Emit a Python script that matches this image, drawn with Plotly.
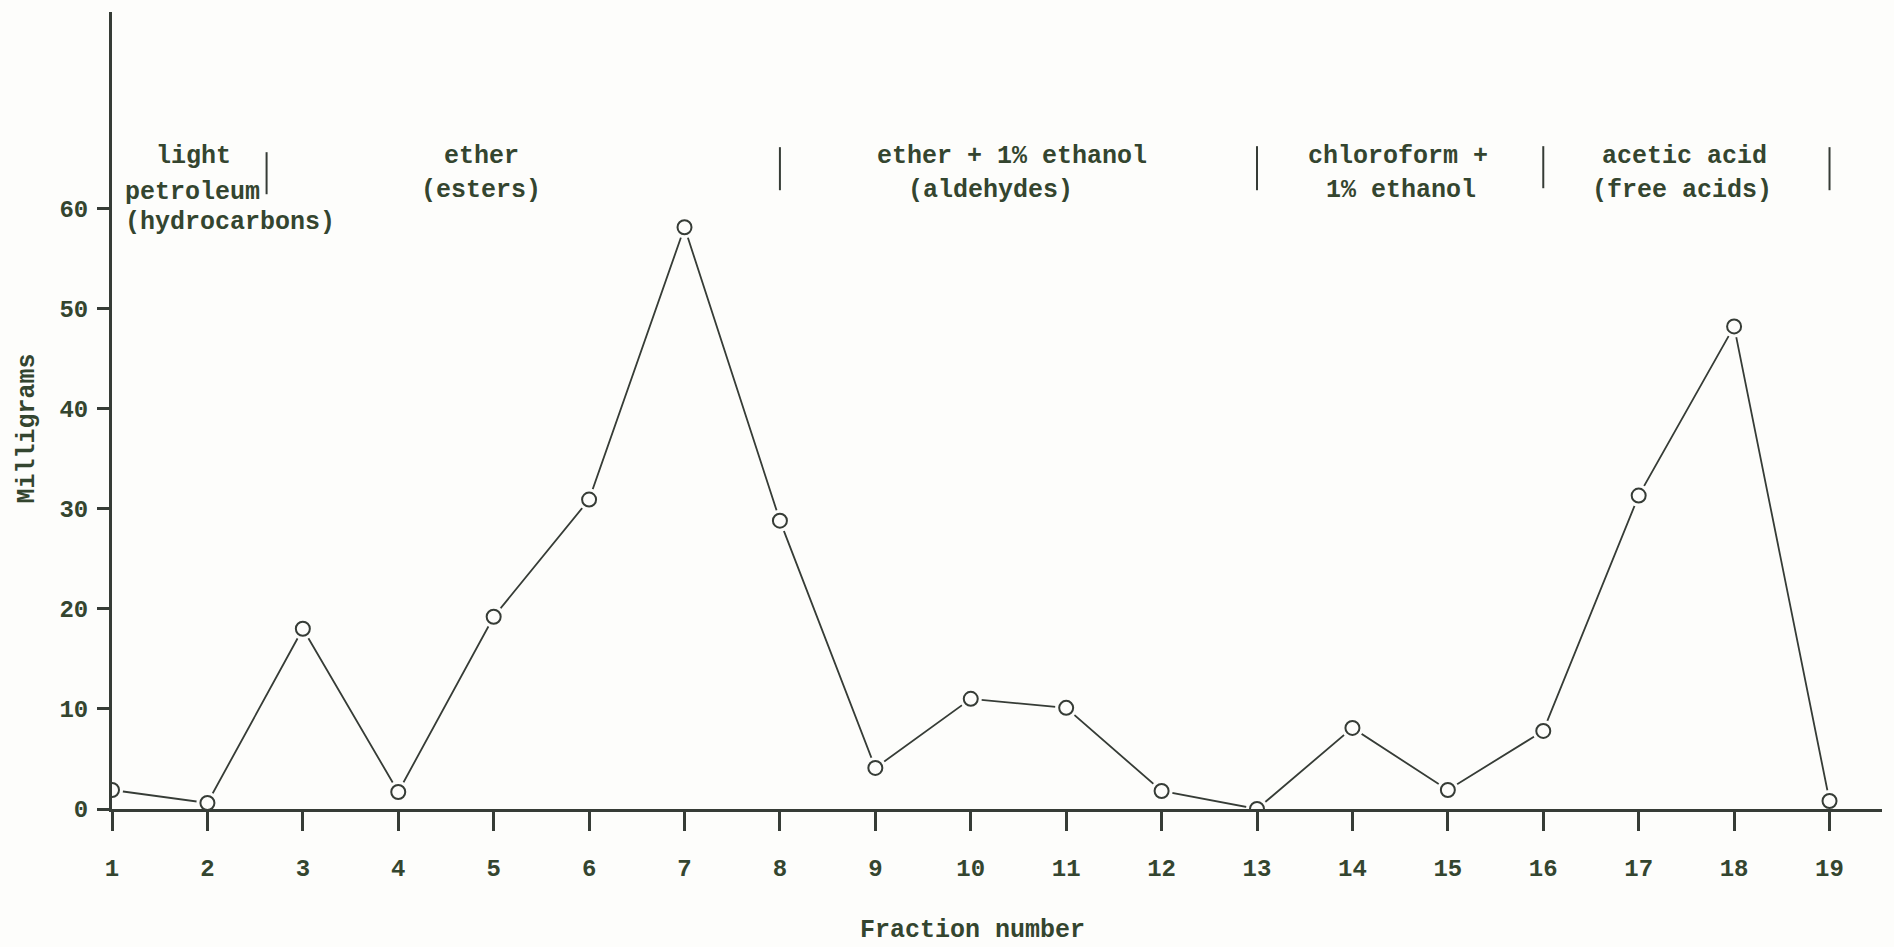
import plotly.graph_objects as go

# Data
fractions = list(range(1, 20))
milligrams = [1.9, 0.6, 18.0, 1.7, 19.2, 30.9, 58.1, 28.8, 4.1, 11.0, 10.1, 1.8, 0.0, 8.1, 1.9, 7.8, 31.3, 48.2, 0.8]

# Solvent labels: (x centre, y, text)
solvent_labels_x = [1.85, 1.12, 1.12, 4.87, 4.87, 10.43, 10.21, 14.48, 14.51, 17.48, 17.45]
solvent_labels_y = [65.2, 61.6, 58.6, 65.2, 61.8, 65.2, 61.8, 65.2, 61.8, 65.2, 61.8]
solvent_labels_text = ["light", "petroleum", "(hydrocarbons)", "ether", "(esters)",
                       "ether + 1% ethanol", "(aldehydes)", "chloroform +", "1% ethanol",
                       "acetic acid", "(free acids)"]
solvent_labels_anchor = ["center", "left", "left", "center", "center", "center", "center",
                         "center", "center", "center", "center"]

# Solvent boundaries (fraction position, y from, y to)
boundary_x = [2.62, 8, 13, 16, 19]
boundary_y0 = [61.4, 61.8, 61.8, 62.0, 61.8]
boundary_y1 = [65.6, 66.1, 66.2, 66.2, 66.1]

ink = "#363c36"
text_col = "#34452f"
bg = "#fdfdfb"
font_family = "Liberation Mono, Courier New, monospace"

fig = go.Figure()
fig.add_trace(go.Scatter(x=fractions, y=milligrams, mode="lines",
                         line=dict(color=ink, width=1.8), hoverinfo="skip"))
fig.add_trace(go.Scatter(x=fractions, y=milligrams, mode="markers",
                         marker=dict(size=22, color=bg, line=dict(width=0)), hoverinfo="skip"))
fig.add_trace(go.Scatter(x=fractions, y=milligrams, mode="markers",
                         marker=dict(symbol="circle-open", size=14, color=ink, line=dict(width=2)),
                         hoverinfo="skip"))

for xb, y0, y1 in zip(boundary_x, boundary_y0, boundary_y1):
    fig.add_shape(type="line", x0=xb, x1=xb, y0=y0, y1=y1, xref="x", yref="y",
                  line=dict(color=ink, width=2))

for xt, yt, tt, an in zip(solvent_labels_x, solvent_labels_y, solvent_labels_text, solvent_labels_anchor):
    fig.add_annotation(x=xt, y=yt, text=tt, xref="x", yref="y", showarrow=False,
                       xanchor=an, yanchor="middle",
                       font=dict(family=font_family, size=25, color=text_col, weight="bold"))

fig.add_annotation(text="Fraction number", xref="paper", yref="paper", x=0.486, y=-0.152,
                   showarrow=False, xanchor="center", yanchor="middle",
                   font=dict(family=font_family, size=25, color=text_col, weight="bold"))
fig.add_annotation(text="Milligrams", xref="paper", yref="y", x=-0.048, y=38.0, textangle=-90,
                   showarrow=False, xanchor="center", yanchor="middle",
                   font=dict(family=font_family, size=25, color=text_col, weight="bold"))

fig.update_layout(
    width=1894, height=947,
    margin=dict(l=112, r=12, t=12, b=138),
    paper_bgcolor=bg, plot_bgcolor=bg,
    showlegend=False,
    font=dict(family=font_family, size=24, color=text_col),
)
fig.update_xaxes(range=[1, 19.55], tickmode="array", tickvals=fractions,
                 ticks="outside", ticklen=19, tickwidth=2.5, tickcolor=ink,
                 showline=True, linecolor=ink, linewidth=3, showgrid=False, zeroline=False,
                 ticklabelstandoff=16,
                 tickfont=dict(family=font_family, size=24, color=text_col, weight="bold"))
fig.update_yaxes(range=[0, 79.6], tickmode="array", tickvals=[0, 10, 20, 30, 40, 50, 60],
                 ticks="outside", ticklen=12, tickwidth=2.5, tickcolor=ink,
                 showline=True, linecolor=ink, linewidth=3, showgrid=False, zeroline=False,
                 ticklabelstandoff=4,
                 tickfont=dict(family=font_family, size=24, color=text_col, weight="bold"))

fig.write_html("out.html")
